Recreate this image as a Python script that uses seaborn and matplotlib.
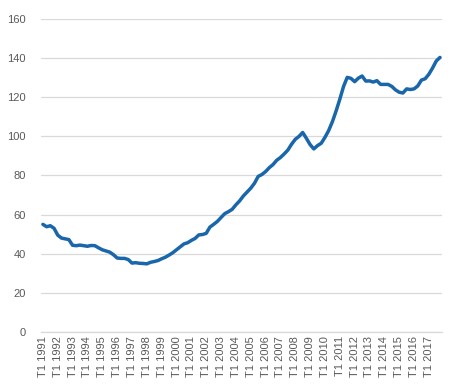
import numpy as np
import pandas as pd
import matplotlib
matplotlib.use("Agg")
import matplotlib.pyplot as plt
import seaborn as sns

# quarterly index, T1 1991 .. T4 2017
years = list(range(1991, 2018))
values = [
    55.0, 53.8, 54.3, 53.0,      # 1991
    49.5, 48.0, 47.6, 47.2,      # 1992
    44.3, 44.1, 44.4, 44.1,      # 1993
    43.8, 44.2, 44.1, 43.0,      # 1994
    42.0, 41.4, 40.8, 39.5,      # 1995
    37.8, 37.6, 37.6, 37.0,      # 1996
    35.2, 35.4, 35.1, 35.0,      # 1997
    34.8, 35.6, 36.0, 36.5,      # 1998
    37.4, 38.2, 39.3, 40.5,      # 1999
    42.0, 43.5, 45.0, 45.6,      # 2000
    46.8, 47.8, 49.6, 49.8,      # 2001
    50.4, 53.6, 55.0, 56.5,      # 2002
    58.5, 60.5, 61.5, 62.7,      # 2003
    65.0, 67.0, 69.5, 71.5,      # 2004
    73.5, 76.0, 79.5, 80.5,      # 2005
    82.0, 84.0, 85.6, 87.8,      # 2006
    89.2, 91.0, 93.0, 96.0,      # 2007
    98.5, 100.0, 102.0, 99.0,    # 2008
    95.8, 93.6, 95.3, 96.5,      # 2009
    99.5, 103.0, 107.5, 113.0,   # 2010
    119.0, 125.5, 130.2, 129.7,  # 2011
    128.0, 129.8, 130.9, 128.3,  # 2012
    128.4, 127.8, 128.5, 126.6,  # 2013
    126.6, 126.6, 125.6, 123.8,  # 2014
    122.6, 122.2, 124.3, 124.0,  # 2015
    124.3, 125.8, 128.8, 129.5,  # 2016
    131.8, 135.0, 138.6, 140.4,  # 2017
]
quarters = [f"T{q} {y}" for y in years for q in range(1, 5)]
tick_labels = [f"T1 {y}" for y in years]

df = pd.DataFrame({"pos": range(len(values)), "quarter": quarters, "value": values})

sns.set_style("white")
plt.rcParams["font.family"] = ["Liberation Sans", "DejaVu Sans"]

fig = plt.figure(figsize=(4.56, 3.90), dpi=100)
ax = fig.add_axes([0.090, 0.149, 0.879, 0.802])

sns.lineplot(data=df, x="pos", y="value", color="#1a66ab", linewidth=2.5, ax=ax)

ax.set_ylim(0, 160)
ax.set_yticks(range(0, 161, 20))
ax.set_xlim(-0.5, len(values) - 0.5)
ax.set_xticks(range(0, len(values), 4))
ax.set_xticklabels(tick_labels, rotation=90)
ax.set_xticks(np.arange(-0.5, len(values), 1), minor=True)

ax.yaxis.grid(True, color="#d9d9d9", linewidth=0.9)
ax.set_axisbelow(True)
for s in ["top", "right", "left"]:
    ax.spines[s].set_visible(False)
ax.spines["bottom"].set_color("#d9d9d9")
ax.spines["bottom"].set_linewidth(0.9)

ax.tick_params(axis="y", length=0, labelsize=8, labelcolor="#595959", pad=11)
ax.tick_params(axis="x", which="major", length=0, labelsize=8, labelcolor="#595959", pad=3)
ax.tick_params(axis="x", which="minor", length=4, color="#d9d9d9", width=0.8, direction="out")
ax.set_xlabel("")
ax.set_ylabel("")

fig.savefig("out.png", dpi=100)
